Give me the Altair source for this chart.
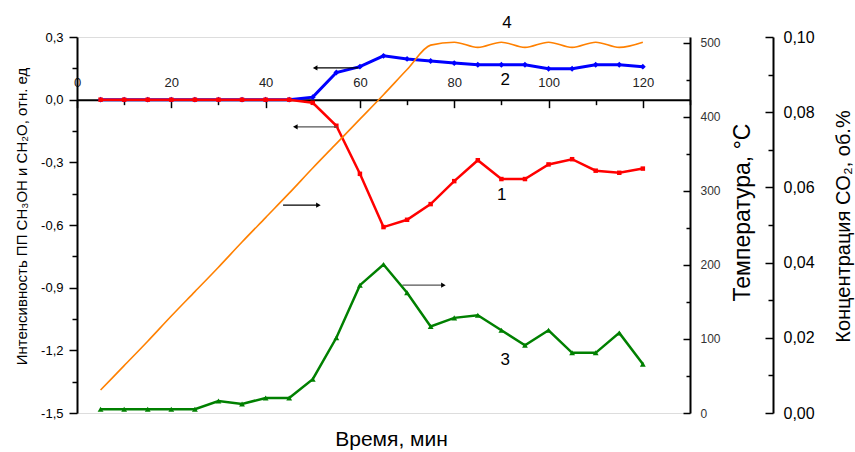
import altair as alt
import pandas as pd

# ---- measured series (time in minutes) ----
time_min = [5, 10, 15, 20, 25, 30, 35, 40, 45, 50, 55, 60,
            65, 70, 75, 80, 85, 90, 95, 100, 105, 110, 115, 120]
ch3oh = [0, 0, 0, 0, 0, 0, 0, 0, 0, -0.015, -0.125, -0.355,
         -0.61, -0.575, -0.50, -0.39, -0.29, -0.38, -0.38, -0.31, -0.285, -0.34, -0.35, -0.33]
ch2o = [0, 0, 0, 0, 0, 0, 0, 0, 0, 0.012, 0.13, 0.158,
        0.21, 0.195, 0.185, 0.175, 0.167, 0.167, 0.167, 0.148, 0.148, 0.167, 0.167, 0.158]
co2 = [0.001, 0.001, 0.001, 0.001, 0.001, 0.0032, 0.0024, 0.004, 0.004, 0.009, 0.020, 0.034,
       0.0395, 0.032, 0.023, 0.0253, 0.026, 0.022, 0.018, 0.022, 0.016, 0.016, 0.0213, 0.013]
temperature = [31, 64, 97, 131, 164, 197, 231, 264, 297, 331, 364, 397,
               430, 464, 497, 501, 494, 501, 494, 501, 494, 501, 494, 501]

# ---- axis tick values ----
x_ticks = [0, 10, 20, 30, 40, 50, 60, 70, 80, 90, 100, 110, 120, 130]
left_ticks = [-1.5, -1.35, -1.2, -1.05, -0.9, -0.75, -0.6, -0.45, -0.3, -0.15, 0.0, 0.15, 0.3]
temp_ticks = [0, 50, 100, 150, 200, 250, 300, 350, 400, 450, 500]
co2_ticks = [0.0, 0.01, 0.02, 0.03, 0.04, 0.05, 0.06, 0.07, 0.08, 0.09, 0.1]

# ---- annotation arrows (pointing to the axis each curve belongs to) ----
arrow_from = [59.7, 55.2, 43.7, 69.0]
arrow_to = [50.5, 46.3, 51.2, 77.7]
arrow_y = [0.152, -0.13, -0.505, -0.888]
arrow_dir = ["triangle-left", "triangle-left", "triangle-right", "triangle-right"]
arrow_col = ["#000000", "#555555", "#000000", "#555555"]

# ---- curve numbers ----
num_text = ["1", "2", "3", "4"]
num_x = [90.1, 90.8, 90.8, 91.2]
num_y = [-0.456, 0.094, -1.246, 0.367]

X_DOMAIN = [0, 130]
Y_DOMAIN = [-1.5, 0.3]
T_DOMAIN = [0, 508]
C_DOMAIN = [0, 0.1]
W, H = 613, 376
FONT = "Liberation Sans"

RED, BLUE, GREEN, ORANGE = "#ff0000", "#0000ff", "#008000", "#ff8000"

df = pd.DataFrame({"t": time_min, "ch3oh": ch3oh, "ch2o": ch2o,
                   "co2": co2, "temp": temperature})
arrows = pd.DataFrame({"x1": arrow_from, "x2": arrow_to, "y": arrow_y,
                       "shape": arrow_dir, "col": arrow_col})
nums = pd.DataFrame({"label": num_text, "x": num_x, "y": num_y})

x_scale = alt.Scale(domain=X_DOMAIN, nice=False, zero=False)
y_scale = alt.Scale(domain=Y_DOMAIN, nice=False, zero=False)
t_scale = alt.Scale(domain=T_DOMAIN, nice=False, zero=False)
c_scale = alt.Scale(domain=C_DOMAIN, nice=False, zero=False)

# x axis runs along y = 0 of the left scale
zero_pos = H * Y_DOMAIN[1] / (Y_DOMAIN[1] - Y_DOMAIN[0])

x_axis = alt.Axis(
    orient="top", offset=-zero_pos, values=x_ticks, grid=False,
    tickSize={"expr": "datum.value % 20 == 0 ? -8 : -5"},
    tickColor="black", tickWidth=1.5, domainColor="black", domainWidth=2,
    labelExpr="datum.value % 20 == 0 && datum.value < 130 ? datum.label : ''",
    labelPadding=18, labelBaseline="bottom", labelFlush=False, labelOverlap=False,
    labelFontSize=13, labelColor="#222222", labelFont=FONT,
    title="Время, мин", titleFont=FONT, titleFontSize=21, titleFontWeight="normal",
    titleColor="black", titleX=314, titleY=340, titleAngle=0,
    titleAlign="center", titleBaseline="middle",
)

left_axis = alt.Axis(
    orient="left", values=left_ticks, grid=False,
    tickSize={"expr": "abs(round(datum.value / 0.15)) % 2 == 0 ? 8 : 5"},
    tickColor="black", tickWidth=1.5, domainColor="black", domainWidth=2,
    labelExpr="abs(round(datum.value / 0.15)) % 2 == 0 ? "
              "replace(replace(format(datum.value, '.1f'), '.', ','), '\u2212', '-') : ''",
    labelPadding=6, labelFlush=False, labelOverlap=False,
    labelFontSize=13, labelColor="black", labelFont=FONT,
    title="Интенсивность ПП CH₃OH и CH₂O, отн. ед", titleFont=FONT,
    titleFontSize=15, titleFontWeight="normal", titleColor="black",
    titleX=-56, titleY=179, titleAngle=270, titleAlign="center", titleBaseline="middle",
)

temp_axis = alt.Axis(
    orient="right", offset=0, values=temp_ticks, grid=False,
    tickSize={"expr": "datum.value % 100 == 0 ? -7 : -4"},
    tickColor="black", tickWidth=1.5, domainColor="black", domainWidth=2,
    labelExpr="datum.value % 100 == 0 ? datum.label : ''",
    labelPadding=17, labelFlush=False, labelOverlap=False,
    labelFontSize=12, labelColor="#333333", labelFont=FONT,
    title="Температура, °C", titleFont=FONT, titleFontSize=23,
    titleFontWeight="normal", titleColor="black",
    titleX=52, titleY=175, titleAngle=270, titleAlign="center", titleBaseline="middle",
)

co2_axis = alt.Axis(
    orient="right", offset=83, values=co2_ticks, grid=False,
    tickSize={"expr": "round(datum.value * 100) % 2 == 0 ? -8 : -5"},
    tickColor="black", tickWidth=1.5, domainColor="black", domainWidth=2,
    labelExpr="round(datum.value * 100) % 2 == 0 ? replace(format(datum.value, '.2f'), '.', ',') : ''",
    labelPadding=18, labelFlush=False, labelOverlap=False,
    labelFontSize=16, labelColor="black", labelFont=FONT,
    title="Концентрация CO₂, об.%", titleFont=FONT, titleFontSize=20,
    titleFontWeight="normal", titleColor="black",
    titleX=70, titleY=189, titleAngle=270, titleAlign="center", titleBaseline="middle",
)


def xq(field):
    return alt.X(field, type="quantitative", scale=x_scale, axis=x_axis)


def yl(field):
    return alt.Y(field, type="quantitative", scale=y_scale, axis=left_axis)


def yc(field):
    return alt.Y(field, type="quantitative", scale=c_scale, axis=co2_axis)


base = alt.Chart(df)

# curves 1 and 2 (left axis)
blue_line = base.mark_line(color=BLUE, strokeWidth=3).encode(x=xq("t"), y=yl("ch2o"))
blue_pts = base.mark_point(shape="diamond", filled=True, size=34, color=BLUE, opacity=1).encode(
    x=xq("t"), y=yl("ch2o"))
red_line = base.mark_line(color=RED, strokeWidth=2.5).encode(x=xq("t"), y=yl("ch3oh"))
red_pts = base.mark_point(shape="square", filled=True, size=20, color=RED, opacity=1).encode(
    x=xq("t"), y=yl("ch3oh"))

arrow_shaft = alt.Chart(arrows).mark_rule(strokeWidth=1.2).encode(
    x=xq("x1"), x2="x2:Q", y=yl("y"), color=alt.Color("col:N", scale=None))
arrow_head = alt.Chart(arrows).mark_point(filled=True, size=28, opacity=1).encode(
    x=xq("x2"), y=yl("y"),
    shape=alt.Shape("shape:N", scale=None), color=alt.value("black"))

num_labels = alt.Chart(nums).mark_text(fontSize=17, font=FONT, color="black").encode(
    x=xq("x"), y=yl("y"), text="label:N")

left_group = alt.layer(blue_line, blue_pts, red_line, red_pts,
                       arrow_shaft, arrow_head, num_labels)

# curve 4 (temperature)
temp_line = base.mark_line(color=ORANGE, strokeWidth=1.6, interpolate="monotone").encode(
    x=xq("t"), y=alt.Y("temp:Q", scale=t_scale, axis=temp_axis))

# curve 3 (CO2)
co2_line = base.mark_line(color=GREEN, strokeWidth=2.5).encode(x=xq("t"), y=yc("co2"))
co2_pts = base.mark_point(shape="triangle-up", filled=True, size=34, color=GREEN, opacity=1).encode(
    x=xq("t"), y=yc("co2"))
co2_group = alt.layer(co2_line, co2_pts)

chart = alt.layer(left_group, temp_line, co2_group).resolve_scale(
    y="independent"
).properties(
    width=W, height=H,
    autosize=alt.AutoSizeParams(type="none"),
    padding={"left": 77, "top": 37, "right": 855 - 77 - W, "bottom": 452 - 37 - H},
    background="white",
).configure_view(stroke=None).configure(font=FONT)

chart.save("out.html", embed_options={"renderer": "svg", "actions": False})
